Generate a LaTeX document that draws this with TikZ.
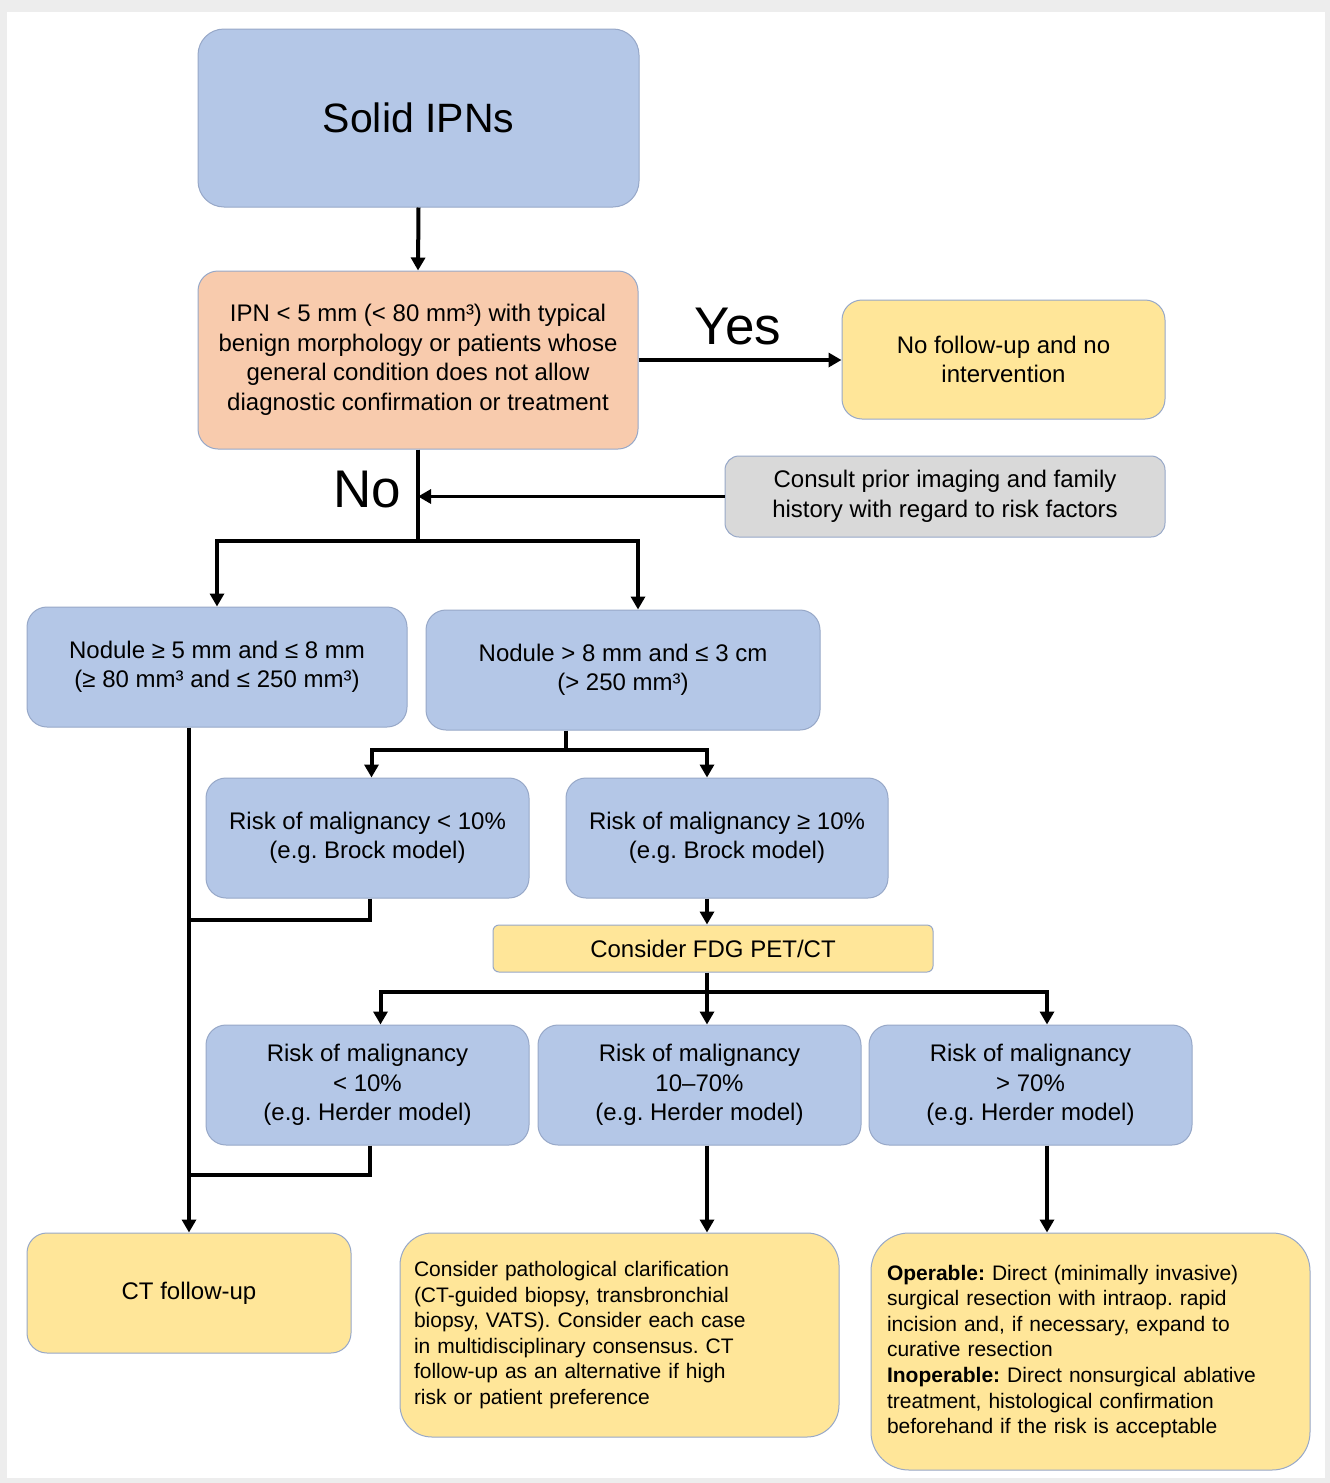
\documentclass[tikz,border=0pt]{standalone}
\usepackage{fontspec}
\setmainfont{Liberation Sans}
\usetikzlibrary{arrows.meta,calc}
\definecolor{bluef}{HTML}{B4C7E7}
\definecolor{outl}{HTML}{97A8C8}
\definecolor{orangef}{HTML}{F8CBAD}
\definecolor{yellowf}{HTML}{FFE699}
\definecolor{grayf}{HTML}{D9D9D9}
\definecolor{frameg}{HTML}{EDEDED}
\frenchspacing
\begin{document}
\begin{tikzpicture}[x=1pt,y=-1pt,
  box/.style={draw=outl, line width=1pt, rounded corners=20pt, inner sep=0pt, align=center,
    font=\fontsize{24}{29.5}\selectfont},
  bluebox/.style={box, fill=bluef},
  orangebox/.style={box, fill=orangef},
  yellowbox/.style={box, fill=yellowf},
  graybox/.style={box, fill=grayf},
  textbox/.style={yellowbox, align=left, font=\fontsize{21}{25.6}\selectfont, rounded corners=32pt},
  biglabel/.style={font=\fontsize{53}{60}\selectfont, inner sep=0pt},
  ln/.style={line width=4pt},
  arr/.style={ln, -{Triangle[width=14pt,length=13pt]}},
]
\useasboundingbox (0,0) rectangle (1330,1483);
\fill[frameg] (0,0) rectangle (1330,1483);
\fill[white] (7,12) rectangle (1325,1478);

% nodes
\node[bluebox, rounded corners=26pt, minimum width=441pt, minimum height=178pt,
  font=\fontsize{41}{48}\selectfont] (top) at (418.5,118) {Solid IPNs};
\node[orangebox, minimum width=440pt, minimum height=178pt] (ipn) at (418,360)
  {IPN < 5 mm (< 80 mm³) with typical\\benign morphology or patients whose\\general condition does not allow\\diagnostic confirmation or treatment};
\node[yellowbox, minimum width=323pt, minimum height=119pt] (nofu) at (1003.5,359.5)
  {No follow-up and no\\intervention};
\node[graybox, rounded corners=14pt, minimum width=440pt, minimum height=81pt] (gray) at (945,496.5)
  {Consult prior imaging and family\\history with regard to risk factors};
\node[bluebox, minimum width=380pt, minimum height=120pt] (nod1) at (217,667)
  {Nodule ≥ 5 mm and ≤ 8 mm\\(≥ 80 mm³ and ≤ 250 mm³)};
\node[bluebox, minimum width=394pt, minimum height=120pt] (nod2) at (623,670)
  {Nodule > 8 mm and ≤ 3 cm\\(> 250 mm³)};
\node[bluebox, minimum width=323pt, minimum height=120pt] (rb1) at (367.5,838)
  {Risk of malignancy < 10\%\\(e.g. Brock model)};
\node[bluebox, minimum width=322pt, minimum height=120pt] (rb2) at (727,838)
  {Risk of malignancy ≥ 10\%\\(e.g. Brock model)};
\node[yellowbox, rounded corners=6pt, minimum width=440pt, minimum height=47pt] (fdg) at (713,948.5)
  {Consider FDG PET/CT};
\node[bluebox, minimum width=323pt, minimum height=120pt] (rh1) at (367.5,1085)
  {Risk of malignancy\\< 10\%\\(e.g. Herder model)};
\node[bluebox, minimum width=323pt, minimum height=120pt] (rh2) at (699.5,1085)
  {Risk of malignancy\\10–70\%\\(e.g. Herder model)};
\node[bluebox, minimum width=323pt, minimum height=120pt] (rh3) at (1030.5,1085)
  {Risk of malignancy\\> 70\%\\(e.g. Herder model)};
\node[yellowbox, minimum width=324pt, minimum height=120pt] (ctf) at (189,1293)
  {CT follow-up};
\node[textbox, text width=411pt, inner xsep=14pt, minimum height=204pt] (path) at (619.5,1335)
  {Consider pathological clarification\\(CT-guided biopsy, transbronchial\\biopsy, VATS). Consider each case\\in multidisciplinary consensus. CT\\follow-up as an alternative if high\\risk or patient preference};
\node[textbox, rounded corners=38pt, text width=407pt, inner xsep=16pt, minimum height=237pt] (oper) at (1090.5,1351.5)
  {\textbf{Operable:} Direct (minimally invasive)\\surgical resection with intraop. rapid\\incision and, if necessary, expand to\\curative resection\\\textbf{Inoperable:} Direct nonsurgical ablative\\treatment, histological confirmation\\beforehand if the risk is acceptable};

\node[biglabel] (yes) at (738,327) {Yes};
\node[biglabel] (no) at (367,490) {No};

% helper coordinates
\coordinate (split1) at (418,541);
\coordinate (colA) at (189,0);
\coordinate (colB) at (707,0);
\coordinate (colC) at (1047,0);
\coordinate (split2) at (566,750);
\coordinate (split3) at (707,992);
\coordinate (j1) at (189,920);
\coordinate (j2) at (189,1175);

% connectors
\draw[arr] (top.south) -- (ipn.north);
\draw[arr] (ipn.east) -- (ipn.east -| nofu.west);
\draw[ln] (ipn.south) -- (split1);
\draw[arr, line width=3pt] (gray.west) -- (gray.west -| ipn.south);
\draw[arr] (split1) -| (nod1.north);
\draw[arr] (split1) -| ([xshift=15pt]nod2.north);
\draw[ln] (nod2.south -| split2) -- (split2);
\draw[arr] (split2) -| ([xshift=4pt]rb1.north);
\draw[arr] (split2) -| (rb2.north -| colB);
\draw[arr] (nod1.south -| colA) -- (ctf.north);
\draw[ln] ([xshift=2pt]rb1.south) |- (j1);
\draw[arr] (rb2.south -| colB) -- (fdg.north -| colB);
\draw[ln] (fdg.south -| colB) -- (split3);
\draw[arr] (split3) -| ([xshift=13pt]rh1.north);
\draw[arr] (split3) -- (rh2.north -| colB);
\draw[arr] (split3) -| (rh3.north -| colC);
\draw[ln] ([xshift=2pt]rh1.south) |- (j2);
\draw[arr] (rh2.south -| colB) -- (path.north -| colB);
\draw[arr] (rh3.south -| colC) -- (oper.north -| colC);
\end{tikzpicture}
\end{document}
